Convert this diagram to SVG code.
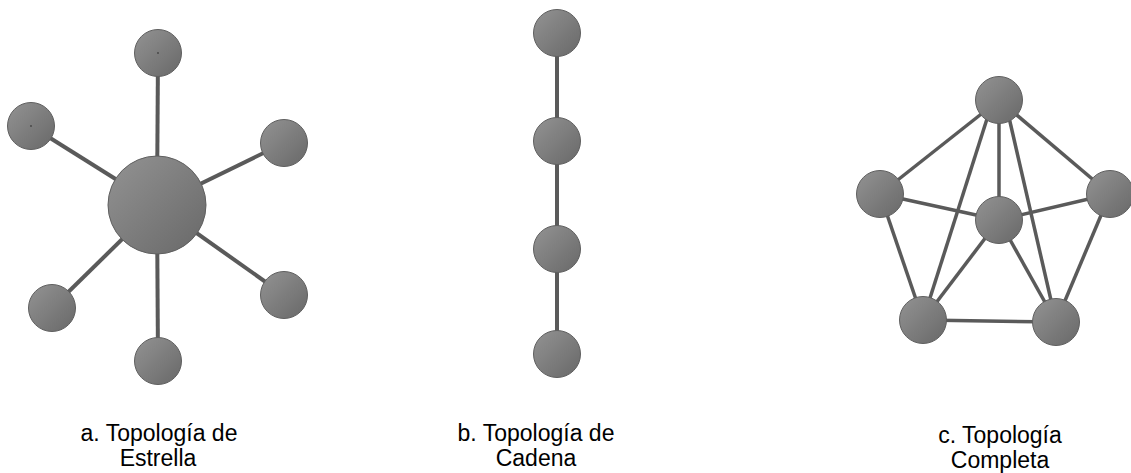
<svg xmlns="http://www.w3.org/2000/svg" width="1131" height="473" viewBox="0 0 1131 473">
  <defs>
    <linearGradient id="ball" x1="0" y1="0" x2="1" y2="1">
      <stop offset="0" stop-color="#939393"/>
      <stop offset="1" stop-color="#686868"/>
    </linearGradient>
    <style>
      .node { fill: url(#ball); stroke: #5f5f5f; stroke-width: 1; }
      .edge { stroke: #5a5a5a; stroke-width: 4; fill: none; }
      .edge.thin { stroke-width: 3.5; }
      .speck { fill: #444; }
      .label { font-family: "Liberation Sans", Arial, sans-serif; font-size: 23px; fill: #000; text-anchor: middle; }
    </style>
  </defs>
  <rect width="1131" height="473" fill="#fff"/>

  <!-- connectors -->
  <g id="connectors">
    <!-- star -->
    <line class="edge" x1="157" y1="205" x2="158" y2="53"/>
    <line class="edge" x1="157" y1="205" x2="31" y2="126"/>
    <line class="edge" x1="157" y1="205" x2="284" y2="143"/>
    <line class="edge" x1="157" y1="205" x2="52" y2="308"/>
    <line class="edge" x1="157" y1="205" x2="284" y2="295"/>
    <line class="edge" x1="157" y1="205" x2="158" y2="361"/>
    <!-- chain -->
    <line class="edge" x1="557" y1="33" x2="557" y2="141"/>
    <line class="edge" x1="557" y1="141" x2="557" y2="249"/>
    <line class="edge" x1="557" y1="249" x2="557" y2="354"/>
    <!-- mesh -->
    <line class="edge thin" x1="999" y1="100" x2="880" y2="194"/>
    <line class="edge thin" x1="999" y1="100" x2="1110" y2="194"/>
    <line class="edge thin" x1="999" y1="100" x2="999" y2="220"/>
    <line class="edge thin" x1="993" y1="100" x2="923" y2="320"/>
    <line class="edge thin" x1="1005" y1="100" x2="1056" y2="322"/>
    <line class="edge thin" x1="880" y1="194" x2="999" y2="220"/>
    <line class="edge thin" x1="1110" y1="194" x2="999" y2="220"/>
    <line class="edge thin" x1="880" y1="194" x2="923" y2="320"/>
    <line class="edge thin" x1="1110" y1="194" x2="1056" y2="322"/>
    <line class="edge thin" x1="999" y1="220" x2="923" y2="320"/>
    <line class="edge thin" x1="999" y1="220" x2="1056" y2="322"/>
    <line class="edge thin" x1="923" y1="320" x2="1056" y2="322"/>
  </g>

  <!-- star topology -->
  <g id="star-hub"><circle class="node" cx="157" cy="205" r="49"/></g>
  <g id="star-n1"><circle class="node" cx="158" cy="53" r="23.5"/><circle class="speck" cx="158" cy="53" r="0.9"/></g>
  <g id="star-n2"><circle class="node" cx="31" cy="126" r="23.5"/><circle class="speck" cx="31" cy="126" r="0.9"/></g>
  <g id="star-n3"><circle class="node" cx="284" cy="143" r="23.5"/></g>
  <g id="star-n4"><circle class="node" cx="52" cy="308" r="23.5"/></g>
  <g id="star-n5"><circle class="node" cx="284" cy="295" r="23.5"/></g>
  <g id="star-n6"><circle class="node" cx="158" cy="361" r="23.5"/></g>

  <!-- chain topology -->
  <g id="chain-n1"><circle class="node" cx="557" cy="33" r="23.5"/></g>
  <g id="chain-n2"><circle class="node" cx="557" cy="141" r="23.5"/></g>
  <g id="chain-n3"><circle class="node" cx="557" cy="249" r="23.5"/></g>
  <g id="chain-n4"><circle class="node" cx="557" cy="354" r="23.5"/></g>

  <!-- mesh topology -->
  <g id="mesh-top"><circle class="node" cx="999" cy="100" r="23.5"/></g>
  <g id="mesh-left"><circle class="node" cx="880" cy="194" r="23.5"/></g>
  <g id="mesh-right"><circle class="node" cx="1110" cy="194" r="23.5"/></g>
  <g id="mesh-center"><circle class="node" cx="999" cy="220" r="23.5"/></g>
  <g id="mesh-bl"><circle class="node" cx="923" cy="320" r="23.5"/></g>
  <g id="mesh-br"><circle class="node" cx="1056" cy="322" r="23.5"/></g>

  <!-- captions -->
  <g id="caption-a">
    <text class="label" x="159" y="441">a. Topología de</text>
    <text class="label" x="158" y="466">Estrella</text>
  </g>
  <g id="caption-b">
    <text class="label" x="536" y="441">b. Topología de</text>
    <text class="label" x="536" y="466">Cadena</text>
  </g>
  <g id="caption-c">
    <text class="label" x="1000" y="443">c. Topología</text>
    <text class="label" x="1000" y="468">Completa</text>
  </g>
</svg>
